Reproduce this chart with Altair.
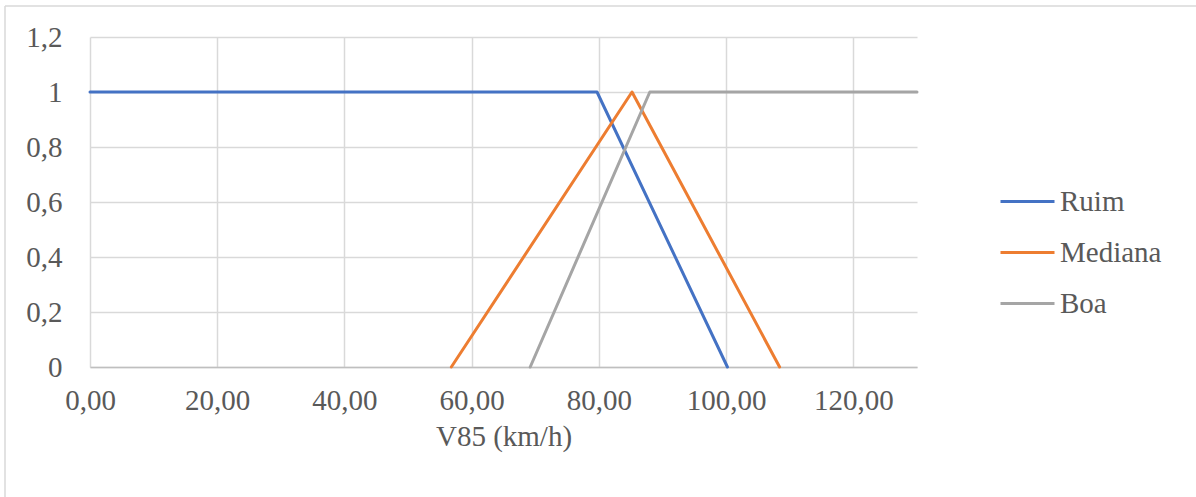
import altair as alt
import pandas as pd

# Data
ruim_x = [0.0, 79.7, 100.2]
ruim_y = [1.0, 1.0, 0.0]
mediana_x = [56.8, 85.2, 108.4]
mediana_y = [0.0, 1.0, 0.0]
boa_x = [69.2, 88.0, 130.0]
boa_y = [0.0, 1.0, 1.0]

series = ["Ruim", "Mediana", "Boa"]
colors = ["#4472C4", "#ED7D31", "#A5A5A5"]
x_ticks = [0, 20, 40, 60, 80, 100, 120]
y_ticks = [0, 0.2, 0.4, 0.6, 0.8, 1.0, 1.2]

rows = []
for name, xs, ys in [("Ruim", ruim_x, ruim_y), ("Mediana", mediana_x, mediana_y), ("Boa", boa_x, boa_y)]:
    for i, (xv, yv) in enumerate(zip(xs, ys)):
        rows.append({"serie": name, "order": i, "x": xv, "y": yv})
df = pd.DataFrame(rows)

FONT = "Liberation Serif"
TXT = "#595959"
FS = 29
W, H = 827, 330

lines = alt.Chart(df).mark_line(strokeWidth=3, strokeCap="round", strokeJoin="round").encode(
    x=alt.X("x:Q", scale=alt.Scale(domain=[0, 130], nice=False, zero=False),
            axis=alt.Axis(values=x_ticks, title="V85 (km/h)",
                          labelExpr="replace(format(datum.value, '.2f'), '.', ',')",
                          grid=True, gridColor="#D9D9D9", gridWidth=1.5,
                          domainColor="#BFBFBF", domainWidth=1.5, ticks=False,
                          labelFlush=False, labelOverlap=False,
                          labelFont=FONT, labelFontSize=FS, labelColor=TXT, labelPadding=19,
                          titleFont=FONT, titleFontSize=FS, titleColor=TXT, titleFontWeight="normal",
                          titlePadding=7)),
    y=alt.Y("y:Q", scale=alt.Scale(domain=[0, 1.2], nice=False),
            axis=alt.Axis(values=y_ticks, title=None,
                          labelExpr="replace(format(datum.value, '~g'), '.', ',')",
                          grid=True, gridColor="#D9D9D9", gridWidth=1.5,
                          domain=False, ticks=False, labelFlush=False, labelOverlap=False,
                          labelFont=FONT, labelFontSize=FS, labelColor=TXT, labelPadding=28)),
    color=alt.Color("serie:N", scale=alt.Scale(domain=series, range=colors),
                    legend=alt.Legend(title=None, orient="none", legendX=909, legendY=136,
                                      symbolType="stroke", symbolSize=2916, symbolStrokeWidth=3,
                                      labelFont=FONT, labelFontSize=FS, labelColor=TXT,
                                      labelOffset=4, rowPadding=7)),
    order="order:O",
)

border_v = alt.Chart(pd.DataFrame({"a": [0]})).mark_rule(color="#D9D9D9", strokeWidth=1.5).encode(
    x=alt.value(-85), y=alt.value(-31), y2=alt.value(470))
border_h = alt.Chart(pd.DataFrame({"a": [0]})).mark_rule(color="#D9D9D9", strokeWidth=1.5).encode(
    x=alt.value(-85), x2=alt.value(1120), y=alt.value(-31))

chart = alt.layer(border_v, border_h, lines).properties(
    width=W, height=H,
    autosize=alt.AutoSizeParams(type="none"),
    padding={"left": 90, "top": 37, "right": 279, "bottom": 130},
    background="white",
).configure_view(stroke=None)

chart.save("out.html", embed_options={"renderer": "svg", "actions": False})
